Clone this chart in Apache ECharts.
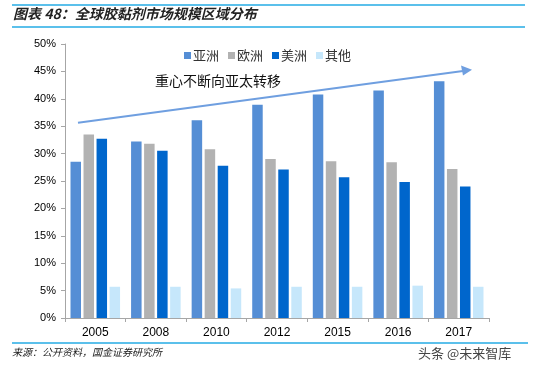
<!DOCTYPE html>
<html><head><meta charset="utf-8">
<script src="https://cdn.jsdelivr.net/npm/echarts@6/dist/echarts.min.js"></script>
<style>html,body{margin:0;padding:0;background:#fff}#c{width:536px;height:368px}</style>
</head><body><div id="c"></div>
<script>
const categories = ['2005','2008','2010','2012','2015','2016','2017'];
const asia    = [28.5, 32.2, 36.1, 38.9, 40.8, 41.5, 43.2];
const europe  = [33.5, 31.8, 30.8, 29.0, 28.6, 28.4, 27.2];
const america = [32.7, 30.5, 27.8, 27.1, 25.7, 24.8, 24.0];
const other   = [5.7, 5.7, 5.4, 5.7, 5.7, 5.9, 5.7];
const seriesNames = ['亚洲','欧洲','美洲','其他'];
const colors = ['#558ed5','#b2b2b2','#0066cc','#c6e7fb'];
const yTicks = [0,5,10,15,20,25,30,35,40,45,50];

const chart = echarts.init(document.getElementById('c'), null, {renderer:'canvas'});
const font = 'Arial, "Liberation Sans", "Noto Sans CJK SC", sans-serif';
const dataArr = [asia, europe, america, other];
chart.setOption({
  animation:false,
  textStyle:{fontFamily:font},
  grid:{left:65,right:47,top:44,bottom:50},
  legend:{
    left:179, top:44, itemWidth:7, itemHeight:7, itemGap:9, icon:'rect',
    textStyle:{fontSize:13,color:'#333',fontFamily:'"Noto Sans CJK SC", sans-serif', padding:[0,0,0,-3]},
    data:seriesNames
  },
  xAxis:{type:'category',data:categories,
    axisLine:{lineStyle:{color:'#a6a6a6'}},
    axisTick:{show:true,length:4,lineStyle:{color:'#a6a6a6'}},
    axisLabel:{fontSize:12,color:'#000',margin:9,fontFamily:font}},
  yAxis:{type:'value',min:yTicks[0],max:yTicks[yTicks.length-1],interval:5,
    axisLine:{show:true,lineStyle:{color:'#a6a6a6'}},
    axisTick:{show:true,length:4,lineStyle:{color:'#a6a6a6'}},
    splitLine:{show:false},
    axisLabel:{fontSize:11,color:'#000',margin:9,formatter:v=>v+'%',fontFamily:font}},
  series: seriesNames.map((n,i)=>({
    name:n,type:'bar',data:dataArr[i],barWidth:10.5,barGap:'24%',barCategoryGap:'17%',
    itemStyle:{color:colors[i]}
  })),
  graphic:[
    {type:'line',shape:{x1:12,y1:5,x2:525,y2:5},style:{stroke:'#5bc0eb',lineWidth:2}},
    {type:'line',shape:{x1:12,y1:27,x2:525,y2:27},style:{stroke:'#5bc0eb',lineWidth:2}},
    {type:'text',left:13,top:7,style:{text:'图表 48：全球胶黏剂市场规模区域分布',font:'italic bold 14px "Noto Sans CJK SC", sans-serif',fill:'#222'}},
    {type:'line',shape:{x1:12,y1:343,x2:528,y2:343},style:{stroke:'#5bc0eb',lineWidth:2}},
    {type:'text',left:12,top:347,style:{text:'来源：公开资料，国金证券研究所',font:'italic 10px "Noto Sans CJK SC", sans-serif',fill:'#222'}},
    {type:'text',left:418,top:347,style:{text:'头条 @未来智库',font:'13px "Noto Sans CJK SC", sans-serif',fill:'#444'}},
    {type:'line',shape:{x1:78,y1:122.7,x2:463,y2:71},style:{stroke:'#6f9fe0',lineWidth:2}},
    {type:'polygon',shape:{points:[[472,69.8],[461,65.5],[463,75.5]]},style:{fill:'#6f9fe0'}},
    {type:'text',left:155,top:74,style:{text:'重心不断向亚太转移',font:'14px "Noto Sans CJK SC", sans-serif',fill:'#111'}}
  ]
});
</script></body></html>
